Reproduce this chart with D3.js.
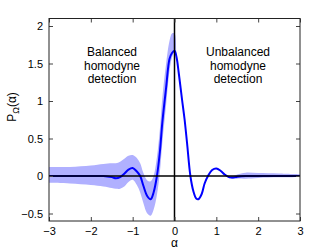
<!DOCTYPE html>
<html>
<head>
<meta charset="utf-8">
<script src="https://cdn.jsdelivr.net/npm/d3@7"></script>
<style>
  body { margin: 0; background: #fff; }
  svg { font-family: "Liberation Sans", Arial, sans-serif; }
</style>
</head>
<body>
<svg id="chart" width="332" height="250"></svg>
<script>
// Reconstructed quasi-probability P_Omega(alpha)
let alphaVals = [-3, -2.5, -2, -1.7, -1.5, -1.4, -1.3, -1.2, -1.1, -1.0, -0.9, -0.82, -0.75, -0.65, -0.57, -0.5,
    -0.42, -0.35, -0.29, -0.2, -0.12, -0.06, 0, 0.05, 0.1, 0.18, 0.24, 0.3, 0.38, 0.45, 0.52, 0.57, 0.65, 0.72,
    0.8, 0.9, 1.0, 1.1, 1.2, 1.3, 1.4, 1.5, 1.7, 2, 2.5, 3];
let pVals = [0, 0, 0, 0, -0.015, -0.03, -0.015, 0.03, 0.085, 0.107, 0.06, 0, -0.12, -0.27, -0.31, -0.22,
    0, 0.32, 0.72, 1.18, 1.56, 1.64, 1.67, 1.58, 1.38, 1.02, 0.76, 0.44, 0, -0.2, -0.3, -0.31, -0.24, -0.1,
    0, 0.08, 0.10, 0.07, 0.02, -0.015, -0.02, -0.01, 0, 0, 0, 0];
// Error band (upper / lower edges)
let bandUpper = [0.12, 0.12, 0.14, 0.16, 0.17, 0.17, 0.19, 0.23, 0.27, 0.28, 0.24, 0.17, 0.05, -0.06, -0.07, 0.0,
    0.25, 0.62, 1.05, 1.5, 1.8, 1.9, 1.9, 1.58, 1.38, 1.02, 0.76, 0.44, 0, -0.2, -0.3, -0.31, -0.24, -0.1,
    0, 0.08, 0.10, 0.07, 0.02, -0.005, 0.0, 0.02, 0.045, 0.04, 0.035, 0.025];
let bandLower = [-0.09, -0.1, -0.12, -0.14, -0.16, -0.17, -0.17, -0.14, -0.08, -0.05, -0.12, -0.22, -0.35, -0.5, -0.53, -0.45,
    -0.25, 0.05, 0.45, 0.95, 1.4, 1.58, 1.65, 1.58, 1.38, 1.02, 0.76, 0.44, 0, -0.2, -0.3, -0.31, -0.24, -0.1,
    0, 0.08, 0.10, 0.07, 0.02, -0.03, -0.04, -0.035, -0.035, -0.025, -0.018, -0.012];

let xTicks = [-3, -2, -1, 0, 1, 2, 3];
let yTicks = [-0.5, 0, 0.5, 1, 1.5, 2];

let svg = d3.select("#chart");
const [plotLeft, plotRight, plotTop, plotBottom] = [49, 300, 18.5, 221];

let x = d3.scaleLinear().domain([-3, 3]).range([plotLeft, plotRight]);
let y = d3.scaleLinear().domain([-0.6, 2.1]).range([plotBottom, plotTop]);

let points = alphaVals.map((a, i) => ({a: a, p: pVals[i], hi: bandUpper[i], lo: bandLower[i]}));

// band
svg.append("path")
    .datum(points)
    .attr("fill", "rgb(176,176,255)")
    .attr("stroke", "none")
    .attr("d", d3.area()
        .x(d => x(d.a))
        .y0(d => y(d.lo))
        .y1(d => y(d.hi))
        .curve(d3.curveCatmullRom));

// main curve
svg.append("path")
    .datum(points)
    .attr("fill", "none")
    .attr("stroke", "#0000ff")
    .attr("stroke-width", 2)
    .attr("d", d3.line()
        .x(d => x(d.a))
        .y(d => y(d.p))
        .curve(d3.curveCatmullRom));

// zero lines
svg.append("line")
    .attr("x1", plotLeft).attr("x2", plotRight)
    .attr("y1", y(0)).attr("y2", y(0))
    .attr("stroke", "#000").attr("stroke-width", 1.5);
svg.append("line")
    .attr("x1", x(0)).attr("x2", x(0))
    .attr("y1", plotTop).attr("y2", plotBottom)
    .attr("stroke", "#000").attr("stroke-width", 1.5);

// axes (MATLAB style, inward ticks, box)
let fmt = d => d3.format("")(d).replace("-", "\u2212");
svg.append("g")
    .attr("transform", "translate(0," + plotBottom + ")")
    .call(d3.axisBottom(x).tickValues(xTicks).tickSize(-4).tickPadding(6).tickFormat(fmt))
    .call(g => g.select(".domain").remove());
svg.append("g")
    .attr("transform", "translate(0," + plotTop + ")")
    .call(d3.axisTop(x).tickValues(xTicks).tickSize(-4).tickFormat(""))
    .call(g => g.select(".domain").remove());
svg.append("g")
    .attr("transform", "translate(" + plotLeft + ",0)")
    .call(d3.axisLeft(y).tickValues(yTicks).tickSize(-4).tickPadding(6).tickFormat(fmt))
    .call(g => g.select(".domain").remove());
svg.append("g")
    .attr("transform", "translate(" + plotRight + ",0)")
    .call(d3.axisRight(y).tickValues(yTicks).tickSize(-4).tickFormat(""))
    .call(g => g.select(".domain").remove());

svg.selectAll(".tick text").attr("font-size", 11).attr("fill", "#000")
    .attr("font-family", "Liberation Sans, Arial, sans-serif");
svg.selectAll(".tick line").attr("stroke", "#444");

svg.append("rect")
    .attr("x", plotLeft).attr("y", plotTop)
    .attr("width", plotRight - plotLeft).attr("height", plotBottom - plotTop)
    .attr("fill", "none").attr("stroke", "#222").attr("stroke-width", 1);

// labels
svg.append("text")
    .attr("x", x(0)).attr("y", 247)
    .attr("text-anchor", "middle").attr("font-size", 12)
    .text("α");

let yl = svg.append("text")
    .attr("transform", "translate(16,107) rotate(-90)")
    .attr("text-anchor", "middle").attr("font-size", 12);
yl.append("tspan").text("P");
yl.append("tspan").attr("font-size", 9).attr("dy", 3).text("Ω");
yl.append("tspan").attr("dy", -3).text("(α)");

let notes = [
    {cx: 112, lines: ["Balanced", "homodyne", "detection"]},
    {cx: 238, lines: ["Unbalanced", "homodyne", "detection"]}
];
notes.forEach(n => {
    n.lines.forEach((t, i) => {
        svg.append("text")
            .attr("x", n.cx).attr("y", 56 + i * 13.5)
            .attr("text-anchor", "middle").attr("font-size", 12)
            .text(t);
    });
});
</script>
</body>
</html>
